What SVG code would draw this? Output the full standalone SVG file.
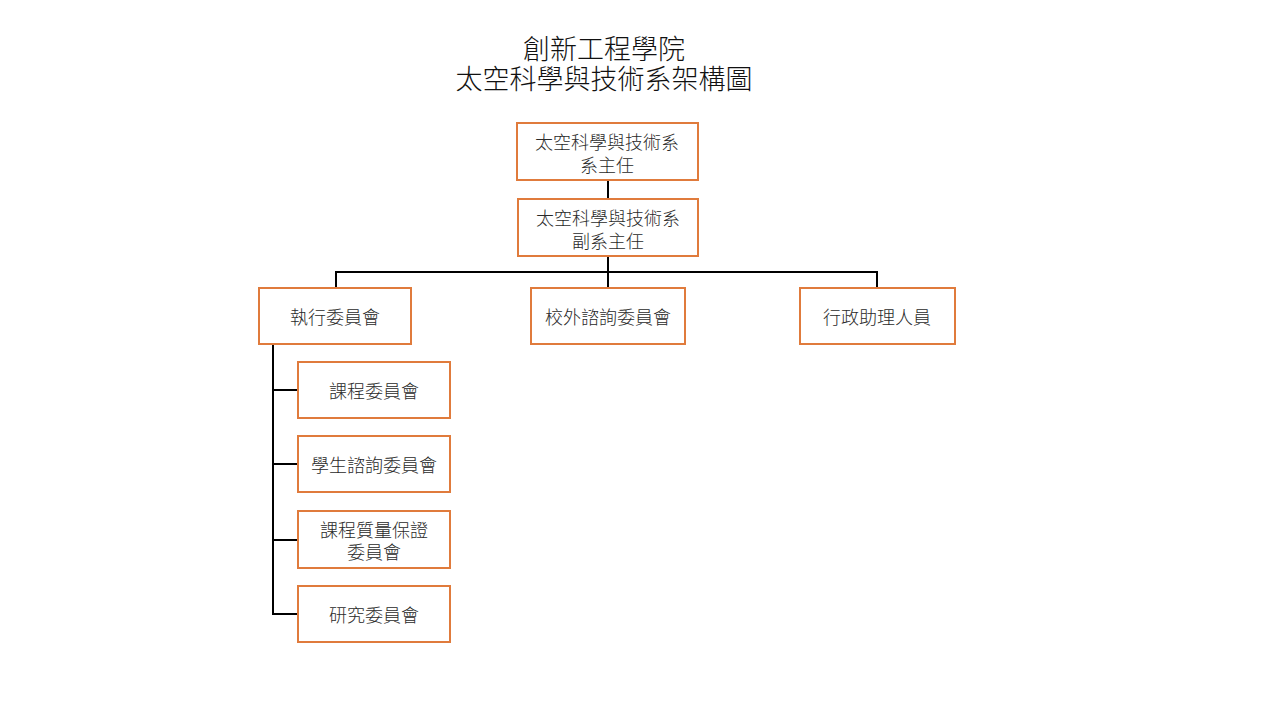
<svg xmlns="http://www.w3.org/2000/svg" width="1280" height="720" viewBox="0 0 1280 720">
<style>
.box{fill:#fff;stroke:#E07B3C;stroke-width:2}
.t{font-family:"Liberation Serif","Noto Sans CJK TC","Noto Sans CJK SC",serif;font-size:18px;font-weight:300;fill:#2a2a2a;text-anchor:middle;dominant-baseline:central}
.title{font-family:"Liberation Serif","Noto Sans CJK TC","Noto Sans CJK SC",serif;font-size:27px;font-weight:300;fill:#111;text-anchor:middle;dominant-baseline:central}
.c{stroke:#000;stroke-width:2;fill:none}
</style>
<rect width="1280" height="720" fill="#fff"/>
<g id="title">
<text class="title" x="604" y="50">創新工程學院</text>
<text class="title" x="604" y="80">太空科學與技術系架構圖</text>
</g>
<g id="connectors">
<line class="c" x1="608" y1="180" x2="608" y2="199"/>
<line class="c" x1="608" y1="256" x2="608" y2="288"/>
<polyline class="c" points="336,288 336,272 877,272 877,288"/>
<polyline class="c" points="273,344 273,614 298,614"/>
<line class="c" x1="273" y1="390" x2="298" y2="390"/>
<line class="c" x1="273" y1="464" x2="298" y2="464"/>
<line class="c" x1="273" y1="540" x2="298" y2="540"/>
</g>
<g id="head">
<rect class="box" x="517" y="123" width="181" height="57"/>
<text class="t" x="607" y="143">太空科學與技術系</text>
<text class="t" x="607" y="166">系主任</text>
</g>
<g id="deputy">
<rect class="box" x="518" y="199" width="180" height="57"/>
<text class="t" x="608" y="219">太空科學與技術系</text>
<text class="t" x="608" y="242">副系主任</text>
</g>
<g id="exec">
<rect class="box" x="259" y="288" width="152" height="56"/>
<text class="t" x="335" y="318">執行委員會</text>
</g>
<g id="advisory">
<rect class="box" x="531" y="288" width="154" height="56"/>
<text class="t" x="608" y="318">校外諮詢委員會</text>
</g>
<g id="admin">
<rect class="box" x="800" y="288" width="155" height="56"/>
<text class="t" x="877" y="318">行政助理人員</text>
</g>
<g id="curriculum">
<rect class="box" x="298" y="362" width="152" height="56"/>
<text class="t" x="374" y="392">課程委員會</text>
</g>
<g id="student">
<rect class="box" x="298" y="436" width="152" height="56"/>
<text class="t" x="374" y="466">學生諮詢委員會</text>
</g>
<g id="qa">
<rect class="box" x="298" y="511" width="152" height="57"/>
<text class="t" x="374" y="531">課程質量保證</text>
<text class="t" x="374" y="553">委員會</text>
</g>
<g id="research">
<rect class="box" x="298" y="586" width="152" height="56"/>
<text class="t" x="374" y="616">研究委員會</text>
</g>
</svg>
